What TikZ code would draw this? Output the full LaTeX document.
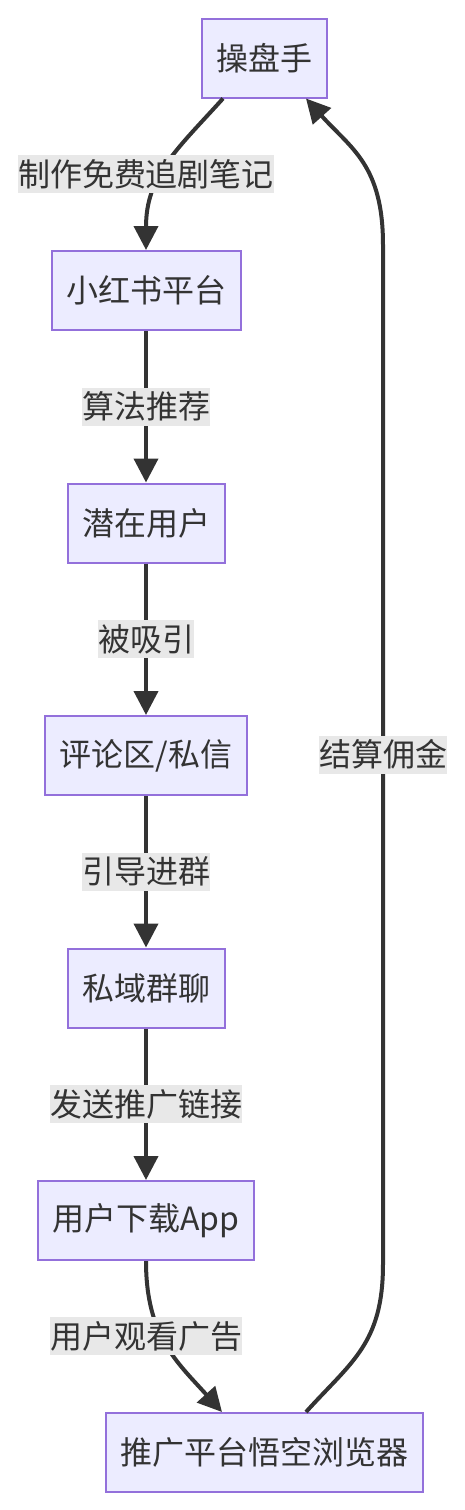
\documentclass[tikz,border=0pt]{standalone}
\usepackage{fontspec}
\setmainfont{Noto Sans CJK SC}
\usetikzlibrary{positioning,arrows.meta}
\definecolor{boxFill}{HTML}{ECECFF}
\definecolor{boxLine}{HTML}{9370DB}
\definecolor{edgeLine}{HTML}{333333}
\definecolor{labelFill}{HTML}{E8E8E8}

\begin{document}
\begin{tikzpicture}[x=1pt, y=1pt, node distance=151.5pt,
  stage/.style={draw=boxLine, fill=boxFill, line width=2pt, text=edgeLine,
    minimum height=79pt, inner xsep=14.5pt, font=\fontsize{32}{38}\selectfont},
  edgeText/.style={fill=labelFill, text=edgeLine, inner sep=0pt,
    minimum height=38pt, font=\fontsize{32}{38}\selectfont},
  flow/.style={draw=edgeLine, line width=4pt, -{Triangle[length=24pt,width=24pt]}}]
  \useasboundingbox (0,0) rectangle (464,-1510);
  \node[stage] (operator) at (264.5,-58) {操盘手};
  \node[stage] (platform) at (146,-290.5) {小红书平台};
  \node[stage, below = of platform] (potentialUser) {潜在用户};
  \node[stage, below = of potentialUser] (comments) {评论区/私信};
  \node[stage, below = of comments] (privateGroup) {私域群聊};
  \node[stage, below = of privateGroup] (downloadApp) {用户下载App};
  \node[stage] (promoter) at (264.5,-1452.5) {推广平台悟空浏览器};
  \coordinate (returnLow) at (383,-1264);
  \coordinate (returnHigh) at (383,-245);
  \draw[flow] ([xshift=-41.5pt]operator.south) .. controls +(-45,-50) and +(0,75) .. (platform.north);
  \draw[flow] (platform) -- node[edgeText] (recommendLabel) {算法推荐} (potentialUser);
  \draw[flow] (potentialUser) -- node[edgeText] (attractLabel) {被吸引} (comments);
  \draw[flow] (comments) -- node[edgeText] (groupLabel) {引导进群} (privateGroup);
  \draw[flow] (privateGroup) -- node[edgeText] (linkLabel) {发送推广链接} (downloadApp);
  \draw[flow] (downloadApp.south) .. controls +(0,-75) and +(-45,50) .. ([xshift=-42.5pt]promoter.north);
  \draw[flow] ([xshift=41.5pt]promoter.north) .. controls +(45,50) and +(0,-80) .. (returnLow)
    -- node[edgeText] (commissionLabel) {结算佣金} (returnHigh)
    .. controls +(0,80) and +(45,-50) .. ([xshift=41.5pt]operator.south);
  \node[edgeText] (notesLabel) at (146,-174) {制作免费追剧笔记};
  \node[edgeText] (adLabel) at (146,-1336) {用户观看广告};
\end{tikzpicture}
\end{document}
